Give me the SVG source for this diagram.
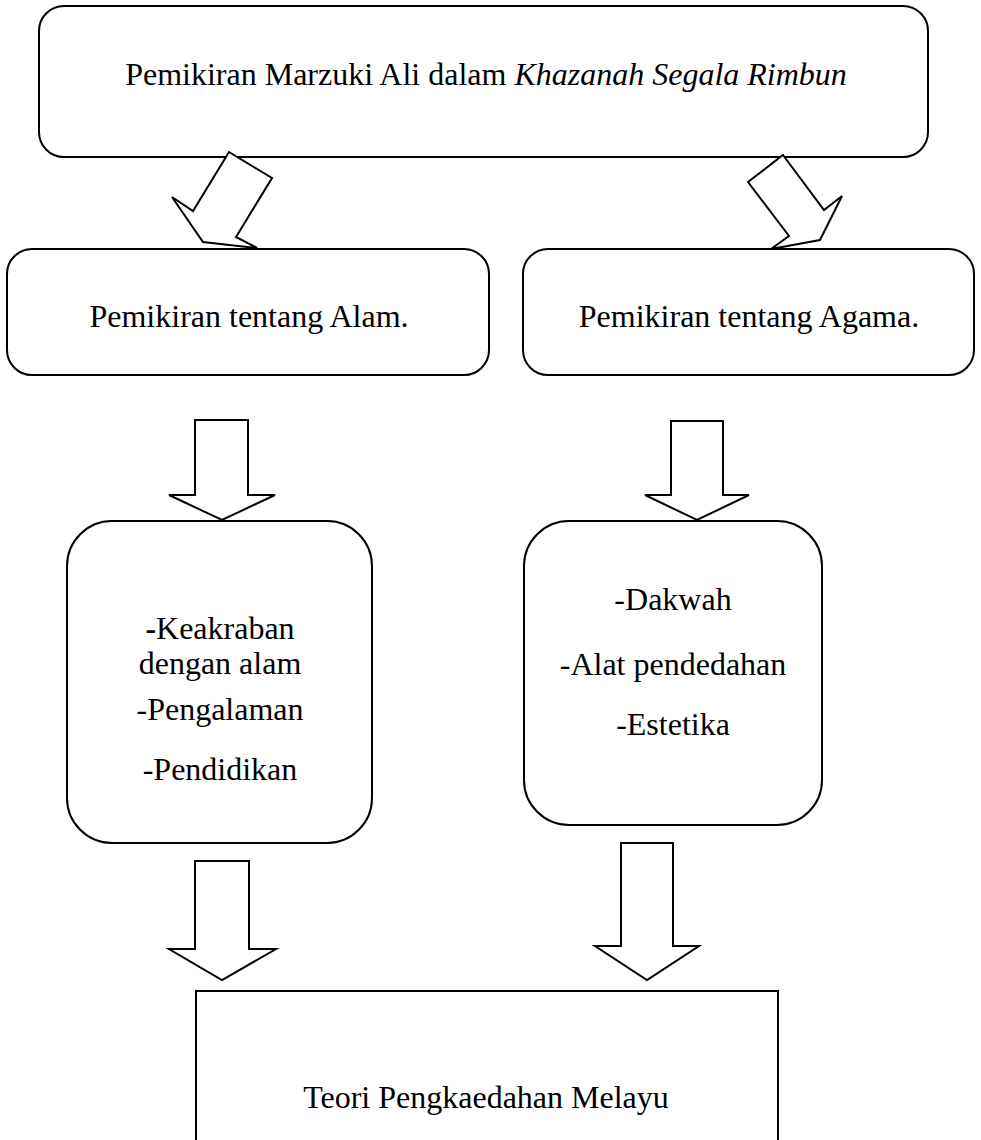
<svg xmlns="http://www.w3.org/2000/svg" width="981" height="1140" viewBox="0 0 981 1140">
<style>
.box{fill:#fff;stroke:#000;stroke-width:2}
.arr{fill:#fff;stroke:#000;stroke-width:2;stroke-linejoin:miter}
text{font-family:"Liberation Serif","Times New Roman",serif;font-size:32px;fill:#000;text-anchor:middle}
</style>
<rect width="981" height="1140" fill="#fff"/>
<g id="node-top">
<rect class="box" x="39" y="6" width="889" height="151" rx="25"/>
<text x="486" y="85">Pemikiran Marzuki Ali dalam <tspan font-style="italic">Khazanah Segala Rimbun</tspan></text>
</g>
<g id="node-alam">
<rect class="box" x="7" y="249" width="482" height="126" rx="25"/>
<text x="249" y="327">Pemikiran tentang Alam.</text>
</g>
<g id="node-agama">
<rect class="box" x="523" y="249" width="451" height="126" rx="25"/>
<text x="749" y="327">Pemikiran tentang Agama.</text>
</g>
<g id="node-alam-list">
<rect class="box" x="67" y="521" width="305" height="322" rx="45"/>
<text x="220" y="639"><tspan font-weight="bold">-</tspan>Keakraban</text>
<text x="220" y="674">dengan alam</text>
<text x="220" y="720">-Pengalaman</text>
<text x="220" y="780">-Pendidikan</text>
</g>
<g id="node-agama-list">
<rect class="box" x="524" y="521" width="298" height="304" rx="45"/>
<text x="673" y="610">-Dakwah</text>
<text x="673" y="675">-Alat pendedahan</text>
<text x="673" y="735">-Estetika</text>
</g>
<g id="node-teori">
<rect class="box" x="196" y="991" width="582" height="160"/>
<text x="486" y="1108">Teori Pengkaedahan Melayu</text>
</g>
<g id="connectors">
<polygon class="arr" points="229,152 272,178 236,237 257,248 203,242 172,197 193,211"/>
<polygon class="arr" points="783,155 824,210 842,196 820,240 771,249 789,236 748,182"/>
<polygon class="arr" points="195,420 248,420 248,495 275,495 222,520 169,495 195,495"/>
<polygon class="arr" points="671,421 723,421 723,495 749,495 697,520 645,495 671,495"/>
<polygon class="arr" points="195,861 249,861 249,949 276,949 222,980 169,949 195,949"/>
<polygon class="arr" points="621,843 673,843 673,946 699,946 647,980 595,946 621,946"/>
</g>
</svg>
